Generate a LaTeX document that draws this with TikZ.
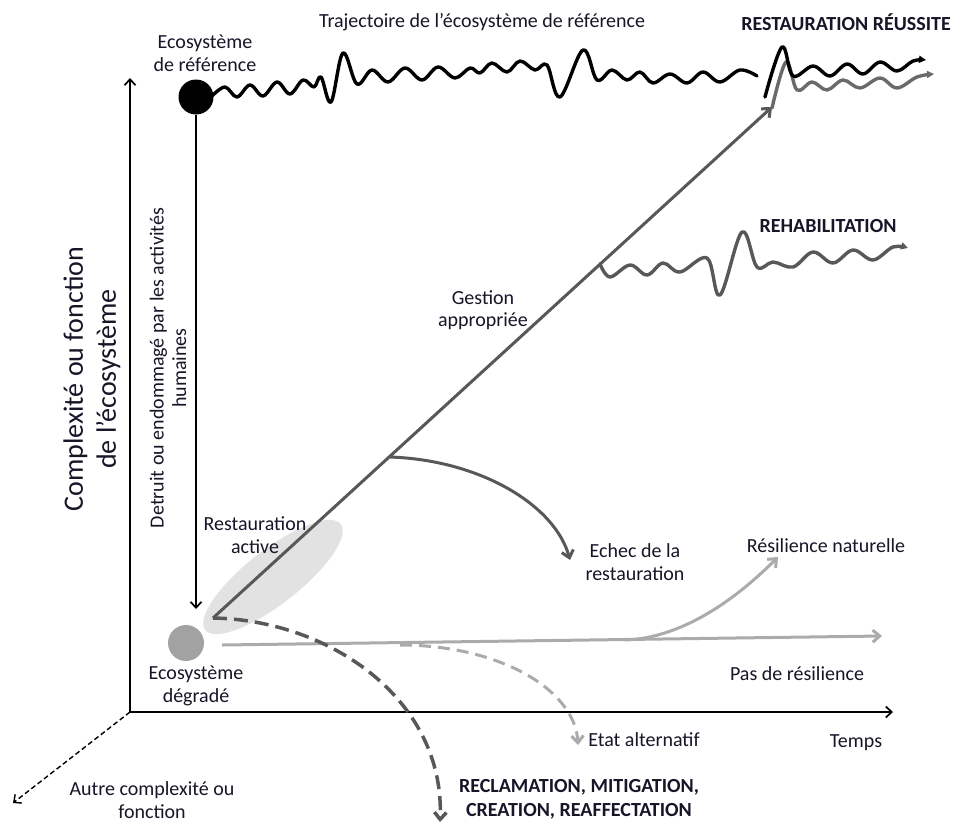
\documentclass[tikz,border=0pt]{standalone}
\usepackage{fontspec}
\setmainfont{Carlito}
\usetikzlibrary{arrows.meta}
\definecolor{txt}{HTML}{161628}
\definecolor{dgrey}{HTML}{585858}
\definecolor{mgrey}{HTML}{6A6A6A}
\definecolor{lgrey}{HTML}{ABABAB}
\definecolor{egrey}{HTML}{E2E2E2}
\definecolor{cgrey}{HTML}{A2A2A2}
\begin{document}
\begin{tikzpicture}[x=1pt,y=-1pt,
  lbl/.style={font=\fontsize{20}{22.5}\selectfont, text=txt, align=center, inner sep=0pt},
  blbl/.style={font=\fontsize{20}{24}\selectfont\bfseries, text=txt, align=center, inner sep=0pt},
  axis/.style={line width=1.7pt, black, -{Straight Barb[length=6pt,width=11pt]}},
  barb/.style={-{Straight Barb[length=7pt,width=12pt]}},
  wave/.style={line width=3.4pt, line join=round, line cap=round},
  path/.style={line width=3pt},
  dashpath/.style={line width=3.5pt, dash pattern=on 14pt off 7pt}
]
\fill[white] (0,0) rectangle (957,827);
\useasboundingbox (0,0) rectangle (957,827);

% coordinates
\coordinate (O) at (130,712);
\coordinate (ytip) at (130,78);
\coordinate (xtip) at (893,712);
\coordinate (ztip) at (13,803);
\coordinate (d0) at (213,618);
\coordinate (d1) at (772,107);
\coordinate (drh) at (600,264);
\coordinate (dech) at (390,457);
\coordinate (echtip) at (570,560);
\coordinate (downtip) at (196,609);
\coordinate (p0) at (222,645);
\coordinate (p1) at (882,636);
\coordinate (pb) at (625,640);
\coordinate (rntip) at (778,557);
\coordinate (a0) at (400,645);
\coordinate (atip) at (578,745);
\coordinate (rtip) at (440,822);

% highlight ellipse
\fill[egrey, rotate around={38:(273,577)}] (273,577) ellipse [x radius=86, y radius=27];

% axes
\draw[axis] (O) -- (ytip);
\draw[axis] (O) -- (xtip);
\draw[line width=1.4pt, dash pattern=on 5pt off 3pt, -{Straight Barb[length=6pt,width=11pt]}] (O) -- (ztip);

% circles
\node[circle, fill=black, minimum size=35pt, inner sep=0pt] (ref) at (196,97) {};
\node[circle, fill=cgrey, minimum size=36pt, inner sep=0pt] (deg) at (186,643) {};

% degradation arrow
\draw[axis] (ref.south) -- (downtip);

% pas de resilience / resilience naturelle
\draw[path, lgrey, barb] (p0) -- (p1);
\draw[path, lgrey, barb] (pb) .. controls (682,638) and (735,600) .. (rntip);

% alternative state
\draw[line width=3pt, lgrey, dash pattern=on 12pt off 7pt, barb] (a0) .. controls (500,645) and (575,690) .. (atip);

% reclamation
\draw[dashpath, dgrey, barb] (d0) .. controls (330,620) and (445,700) .. (rtip);

% main diagonal
\draw[path, dgrey, barb] (d0) -- (d1);

% echec
\draw[path, dgrey, barb] (dech) .. controls (480,460) and (555,505) .. (echtip);

% rehabilitation wave
\draw[wave, dgrey, -{Triangle[length=7pt,width=7pt]}] plot[smooth, tension=0.6] coordinates {
 (600,264) (610,277) (630,265) (647,275) (663,263) (680,272) (707,258) (720,295) (742,232)
 (757,267) (773,262) (793,267) (813,252) (833,263) (853,250) (873,260) (893,247) (908,248)};

% reference wave
\draw[wave, black] plot[smooth, tension=0.6] coordinates {
 (212,96) (225,87) (237,97) (250,85) (263,96) (277,82) (290,94) (303,80) (314,87) (321,77)
 (331,102) (343,53) (357,84) (372,70) (388,82) (405,68) (422,80) (438,67) (455,78) (470,68)
 (480,73) (492,63) (507,72) (520,61) (535,70) (547,65) (560,97) (583,50) (597,80) (612,70)
 (627,80) (640,72) (653,83) (670,74) (687,83) (703,72) (720,82) (740,70) (757,76)};

% successful restoration (grey) and reference (black)
\draw[wave, mgrey, -{Triangle[length=7pt,width=7pt]}] plot[smooth, tension=0.6] coordinates {
 (772,108) (786,62) (797,90) (812,82) (827,90) (843,80) (860,88) (880,78) (897,88) (917,77) (934,74)};
\draw[wave, black, -{Triangle[length=7pt,width=7pt]}] plot[smooth, tension=0.6] coordinates {
 (765,97) (782,47) (793,76) (813,66) (830,76) (847,64) (863,74) (880,62) (897,71) (913,61) (926,60)};

% labels
\node[lbl] (lref) at (205,53) {Ecosystème\\de référence};
\node[lbl] (ltraj) at (482,22) {Trajectoire de l’écosystème de référence};
\node[blbl] (lreu) at (846,22) {RESTAURATION RÉUSSITE};
\node[blbl] (lrehab) at (828,226) {REHABILITATION};
\node[lbl] (lgest) at (483,310) {Gestion\\appropriée};
\node[lbl] (lact) at (255,535) {Restauration\\active};
\node[lbl] (lech) at (635,562) {Echec de la\\restauration};
\node[lbl] (lrn) at (826,546) {Résilience naturelle};
\node[lbl] (lpas) at (797,674) {Pas de résilience};
\node[lbl] (ltemps) at (856,743) {Temps};
\node[lbl] (letat) at (644,740) {Etat alternatif};
\node[blbl] (lrecl) at (579,799) {RECLAMATION, MITIGATION,\\CREATION, REAFFECTATION};
\node[lbl] (ldeg) at (196,686) {Ecosystème\\dégradé};
\node[lbl] (lautre) at (152,800) {Autre complexité ou\\fonction};
\node[lbl, font=\fontsize{28}{33}\selectfont, rotate=90] (lcomp) at (92,379) {Complexité ou fonction\\de l’écosystème};
\node[lbl, rotate=90] (ldet) at (168,368) {Detruit ou endommagé par les activités\\humaines};
\end{tikzpicture}
\end{document}
